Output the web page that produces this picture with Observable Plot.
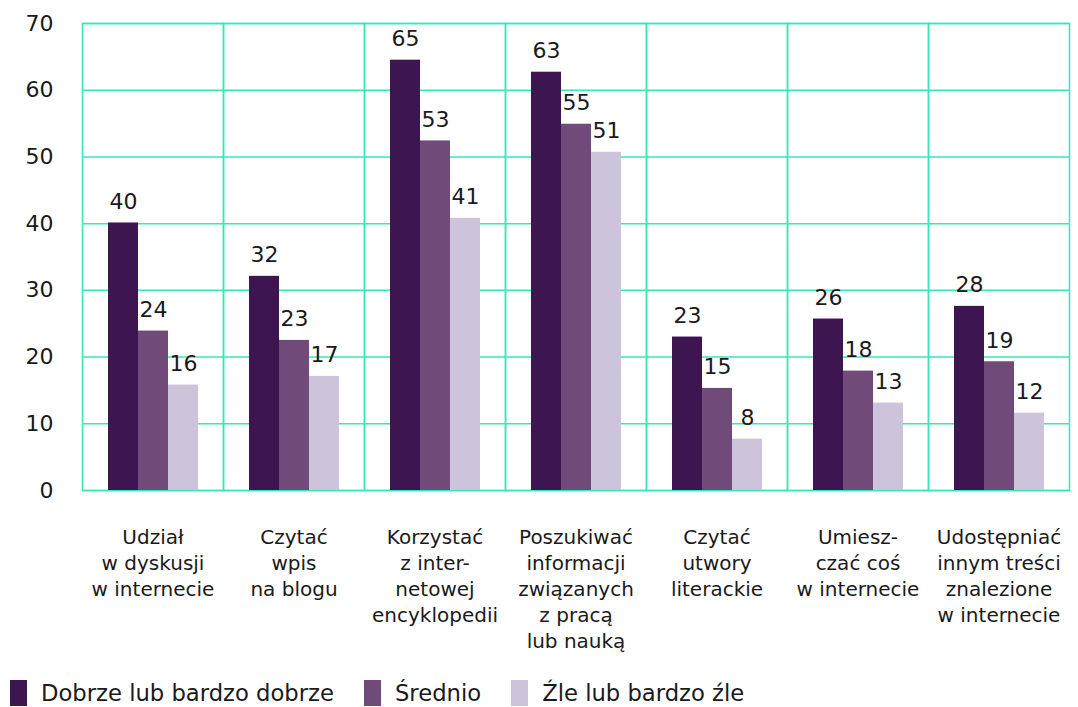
<!DOCTYPE html>
<html>
<head>
<meta charset="utf-8">
<script src="https://cdn.jsdelivr.net/npm/d3@7"></script>
<script src="https://cdn.jsdelivr.net/npm/@observablehq/plot@0.6"></script>
<style>
  body { margin: 0; background: #fff; font-family: "DejaVu Sans", sans-serif; color: #1a1a1a; }
  #legend { display: flex; align-items: center; margin-top: 15px; padding-left: 10px; font-size: 22.7px; }
  .item { display: flex; align-items: center; margin-right: 30px; }
  .sw { width: 17px; height: 26px; margin-right: 14px; }
</style>
</head>
<body>
<div id="chart"></div>
<div id="legend"></div>
<script>
const categories = [
  "Udział\nw dyskusji\nw internecie",
  "Czytać\nwpis\nna blogu",
  "Korzystać\nz inter-\nnetowej\nencyklopedii",
  "Poszukiwać\ninformacji\nzwiązanych\nz pracą\nlub nauką",
  "Czytać\nutwory\nliterackie",
  "Umiesz-\nczać coś\nw internecie",
  "Udostępniać\ninnym treści\nznalezione\nw internecie"
];
const series = ["Dobrze lub bardzo dobrze", "Średnio", "Źle lub bardzo źle"];
const goodValues   = [40.1, 32.1, 64.5, 62.7, 23.0, 25.7, 27.6];
const mediumValues = [23.9, 22.5, 52.4, 54.9, 15.3, 17.9, 19.3];
const badValues    = [15.8, 17.1, 40.8, 50.7, 7.7, 13.1, 11.6];
const goodLabels   = ["40", "32", "65", "63", "23", "26", "28"];
const mediumLabels = ["24", "23", "53", "55", "15", "18", "19"];
const badLabels    = ["16", "17", "41", "51", "8", "13", "12"];
const yTicks = [0, 10, 20, 30, 40, 50, 60, 70];
const colors = ["#3c1551", "#704b7a", "#cdc3da"];
const gridColor = "#34e8bb";

const valueSets = [goodValues, mediumValues, badValues];
const labelSets = [goodLabels, mediumLabels, badLabels];
const data = [];
categories.forEach((c, i) => {
  series.forEach((s, j) => {
    data.push({category: c, series: s, value: valueSets[j][i], label: labelSets[j][i]});
  });
});

const chart = Plot.plot({
  width: 1078,
  height: 665,
  marginTop: 23,
  marginLeft: 80,
  marginRight: 7,
  marginBottom: 175,
  style: {fontFamily: "'DejaVu Sans', sans-serif", fontSize: "20px", color: "#1a1a1a", background: "#fff"},
  fx: {domain: categories, padding: 0, label: null, axis: null},
  x: {domain: series, paddingOuter: 0.8, paddingInner: 0, axis: null},
  y: {domain: [0, 70], axis: null},
  color: {domain: series, range: colors},
  marks: [
    Plot.ruleY(yTicks, {stroke: gridColor, strokeWidth: 1.5}),
    Plot.frame({stroke: gridColor, strokeWidth: 1.5}),
    Plot.barY(data, {fx: "category", x: "series", y: "value", fill: "series"}),
    Plot.text(data, {fx: "category", x: "series", y: "value", text: "label", dy: -14, lineAnchor: "bottom", fontSize: 22, fill: "#1a1a1a"}),
    Plot.axisY({ticks: yTicks, tickSize: 0, tickPadding: 29, fontSize: 22, label: null, tickFormat: d => String(d)}),
    Plot.axisFx({anchor: "bottom", tickSize: 0, tickPadding: 35, fontSize: 20, lineHeight: 1.3, label: null, lineAnchor: "top"})
  ]
});
document.getElementById("chart").appendChild(chart);

const legend = document.getElementById("legend");
series.forEach((s, j) => {
  const item = document.createElement("div");
  item.className = "item";
  const sw = document.createElement("span");
  sw.className = "sw";
  sw.style.background = colors[j];
  const t = document.createElement("span");
  t.textContent = s;
  item.appendChild(sw);
  item.appendChild(t);
  legend.appendChild(item);
});
</script>
</body>
</html>
